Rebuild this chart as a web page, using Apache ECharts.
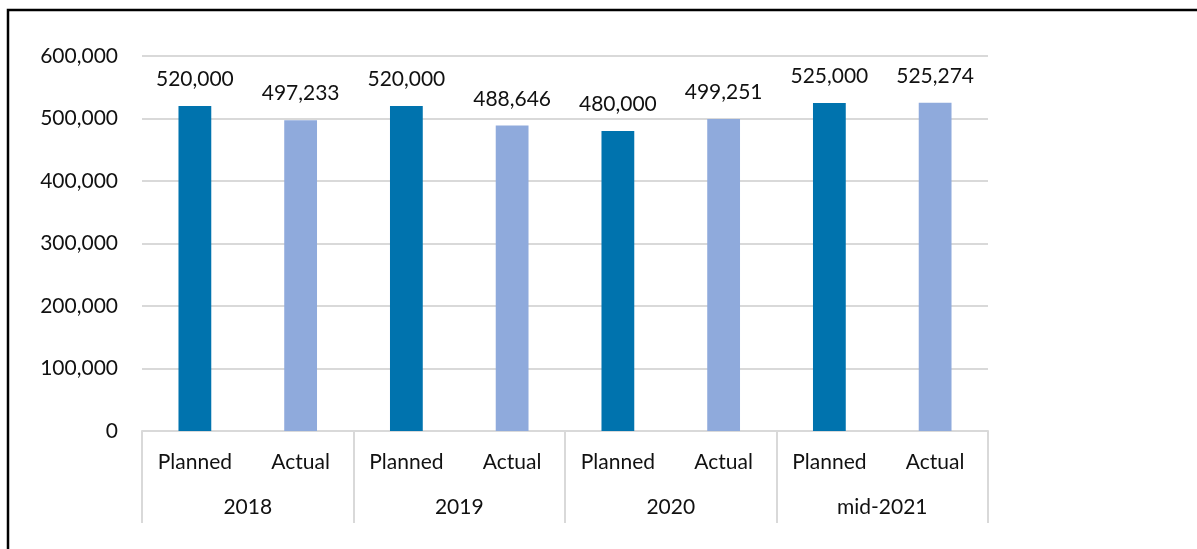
<!DOCTYPE html>
<html>
<head>
<meta charset="utf-8">
<script src="https://cdn.jsdelivr.net/npm/echarts@6/dist/echarts.min.js"></script>
<style>html,body{margin:0;padding:0;background:#fff}#c{width:1197px;height:549px}</style>
</head>
<body>
<div id="c"></div>
<script>
const groups = ['2018', '2019', '2020', 'mid-2021'];
const kinds = ['Planned', 'Actual', 'Planned', 'Actual', 'Planned', 'Actual', 'Planned', 'Actual'];
const values = [520000, 497233, 520000, 488646, 480000, 499251, 525000, 525274];
const yTicks = [0, 100000, 200000, 300000, 400000, 500000, 600000];

const colors = { Planned: '#0073AE', Actual: '#8FAADC' };
const font = 'Lato, "Open Sans", sans-serif';
const fs = 21;
const fmt = v => v.toLocaleString('en-US');

const chart = echarts.init(document.getElementById('c'), null, { renderer: 'canvas' });
chart.setOption({
  animation: false,
  backgroundColor: '#fff',
  grid: { left: 142, right: 209, top: 56, bottom: 118 },
  xAxis: [
    {
      type: 'category',
      data: kinds,
      axisLine: { show: true, lineStyle: { color: '#d9d9d9', width: 2 } },
      axisTick: { show: false },
      axisLabel: { color: '#111', fontFamily: font, fontSize: fs, margin: 21 }
    },
    {
      type: 'category',
      data: groups,
      position: 'bottom',
      axisLine: { show: false },
      axisTick: { show: true, length: 92, lineStyle: { color: '#d9d9d9', width: 2 } },
      axisLabel: { color: '#111', fontFamily: font, fontSize: fs, margin: 66 }
    }
  ],
  yAxis: {
    type: 'value',
    min: yTicks[0],
    max: yTicks[yTicks.length - 1],
    interval: yTicks[1] - yTicks[0],
    axisLine: { show: false },
    axisTick: { show: false },
    splitLine: { lineStyle: { color: '#d9d9d9', width: 2 } },
    axisLabel: { color: '#111', fontFamily: font, fontSize: fs, margin: 24, formatter: v => fmt(v) }
  },
  series: [{
    type: 'bar',
    xAxisIndex: 0,
    barWidth: '31%',
    data: values.map((v, i) => ({ value: v, itemStyle: { color: colors[kinds[i]] } })),
    label: {
      show: true, position: 'top', distance: 16,
      color: '#111', fontFamily: font, fontSize: fs,
      formatter: p => fmt(p.value)
    }
  }],
  graphic: [{
    type: 'rect',
    shape: { x: 8, y: 10, width: 1400, height: 800 },
    style: { fill: null, stroke: '#000', lineWidth: 2.5 },
    silent: true
  }]
});
</script>
</body>
</html>
